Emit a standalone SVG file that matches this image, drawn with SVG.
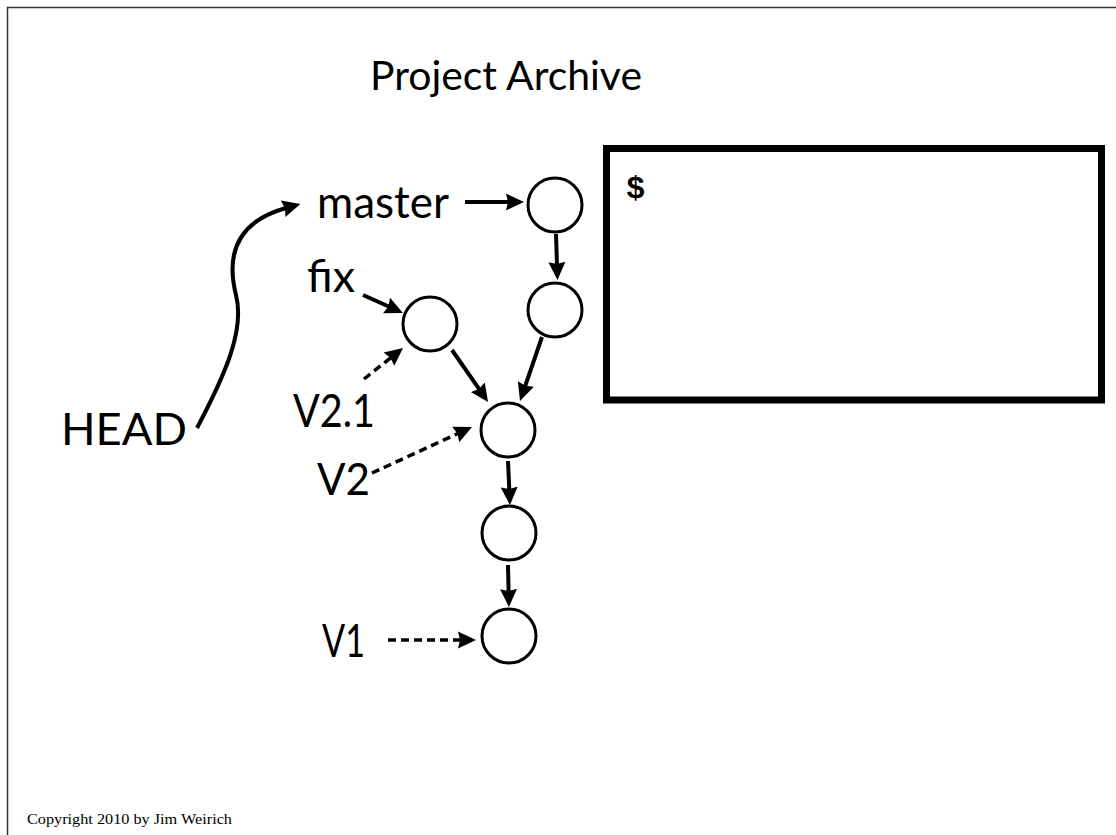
<svg xmlns="http://www.w3.org/2000/svg" width="1116" height="835" viewBox="0 0 1116 835">
<style>
.lbl{font-family:Lato,"Open Sans","Liberation Sans",sans-serif;font-size:44px;fill:#000}
.node{fill:#fff;stroke:#000;stroke-width:3}
.edge{fill:none;stroke:#000;stroke-width:4}
.dash{fill:none;stroke:#000;stroke-width:3.5;stroke-dasharray:8 5}
</style>
<defs>
<marker id="ah" markerUnits="userSpaceOnUse" markerWidth="20" markerHeight="20" viewBox="0 0 20 20" refX="3" refY="10" orient="auto">
<path d="M0,1.5 L18,10 L0,18.5 L2,10 z" fill="#000"/>
</marker>
</defs>
<rect width="1116" height="835" fill="#fff"/>
<path d="M7.5,835 V7.5 H1116" fill="none" stroke="#333" stroke-width="1.5"/>
<g id="title"><text x="370" y="90" class="lbl" style="font-size:40px" textLength="272" lengthAdjust="spacingAndGlyphs">Project Archive</text></g>
<g id="terminal">
<rect x="606.5" y="148.5" width="495" height="251.5" fill="#fff" stroke="#000" stroke-width="7"/>
<text x="626" y="198" font-family="'Liberation Mono',monospace" font-weight="bold" font-size="32">$</text>
</g>
<g id="connectors">
<path class="edge" d="M465,202 L509,202" marker-end="url(#ah)"/>
<path class="edge" d="M556,234 L557,265" marker-end="url(#ah)"/>
<path class="edge" d="M363,295 L389.3,306.8" marker-end="url(#ah)"/>
<path class="edge" d="M542,337 L524.9,386.8" marker-end="url(#ah)"/>
<path class="edge" d="M452,350 L479.5,389.7" marker-end="url(#ah)"/>
<path class="dash" d="M364,379 L391.3,357.3" marker-end="url(#ah)"/>
<path class="dash" d="M372,473 L458.4,433.3" marker-end="url(#ah)"/>
<path class="edge" d="M508,461 L509.3,490" marker-end="url(#ah)"/>
<path class="edge" d="M508,565 L508.6,592" marker-end="url(#ah)"/>
<path class="dash" d="M388,640 L461,640" marker-end="url(#ah)"/>
<path class="edge" d="M197,428 C225,375 245,330 236,295 C226,255 236,222 286,208" marker-end="url(#ah)"/>
</g>
<g id="c1"><circle class="node" cx="555" cy="205" r="27"/></g>
<g id="c2"><circle class="node" cx="555" cy="310" r="27"/></g>
<g id="cfix"><circle class="node" cx="430" cy="324" r="27"/></g>
<g id="c3"><circle class="node" cx="508" cy="430" r="27"/></g>
<g id="c4"><circle class="node" cx="509" cy="533" r="27"/></g>
<g id="c5"><circle class="node" cx="509" cy="636" r="27"/></g>
<g id="master"><text x="317" y="218" class="lbl" textLength="132" lengthAdjust="spacingAndGlyphs">master</text></g>
<g id="fix"><text x="307" y="292" class="lbl" textLength="48" lengthAdjust="spacingAndGlyphs">fix</text></g>
<g id="head"><text x="61" y="445" class="lbl" textLength="126" lengthAdjust="spacingAndGlyphs">HEAD</text></g>
<g id="v21"><text x="293" y="427" class="lbl" style="font-size:47px" textLength="82" lengthAdjust="spacingAndGlyphs">V2.1</text></g>
<g id="v2"><text x="317" y="495" class="lbl" textLength="53" lengthAdjust="spacingAndGlyphs">V2</text></g>
<g id="v1"><text x="322" y="657" class="lbl" style="font-size:47px" textLength="43" lengthAdjust="spacingAndGlyphs">V1</text></g>
<g id="copyright"><text x="27" y="824" font-family="'Liberation Serif',serif" font-size="15" textLength="205" lengthAdjust="spacingAndGlyphs">Copyright 2010 by Jim Weirich</text></g>
</svg>
